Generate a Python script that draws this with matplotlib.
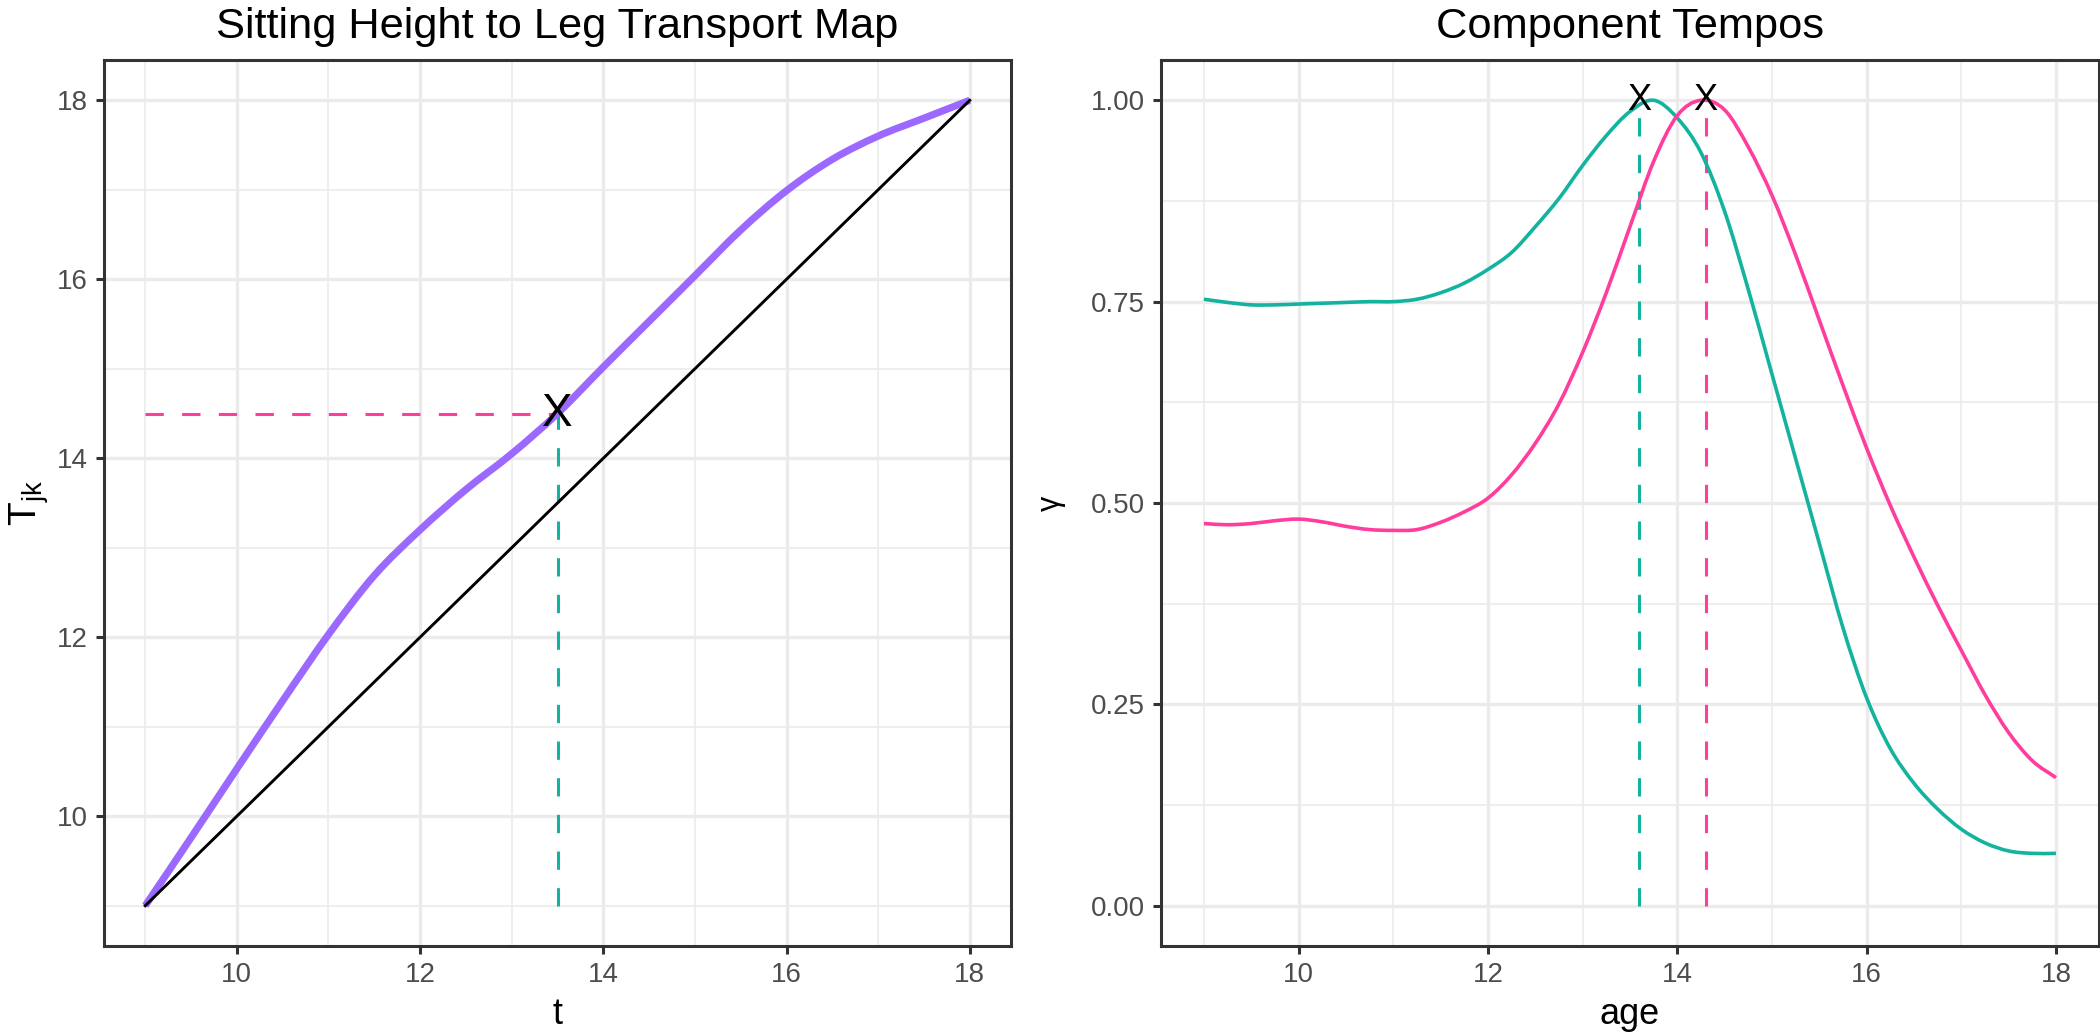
import numpy as np
import matplotlib
matplotlib.use("Agg")
import matplotlib.pyplot as plt
from matplotlib.path import Path
from matplotlib.patches import PathPatch

plt.rcParams['font.family'] = ['Liberation Sans', 'DejaVu Sans']
plt.rcParams['mathtext.fontset'] = 'custom'
plt.rcParams['mathtext.rm'] = 'Liberation Sans'
plt.rcParams['mathtext.it'] = 'Liberation Sans'

# ---- data: left panel (transport map) ----
t_vals = [9.0, 9.5, 10.0, 10.5, 11.0, 11.5, 12.0, 12.5, 13.0, 13.5, 14.0,
          14.5, 15.0, 15.5, 16.0, 16.5, 17.0, 17.5, 18.0]
T_vals = [9.0, 9.76, 10.53, 11.29, 12.03, 12.69, 13.2, 13.65, 14.05, 14.5,
          15.02, 15.53, 16.04, 16.55, 16.99, 17.34, 17.6, 17.8, 18.0]
identity = [9.0, 18.0]
mark_t = 13.5
mark_T = 14.5

# ---- data: right panel (component tempos) ----
age = [9.0, 9.25, 9.5, 9.75, 10.0, 10.25, 10.5, 10.75, 11.0, 11.25, 11.5,
       11.75, 12.0, 12.25, 12.5, 12.75, 13.0, 13.25, 13.5, 13.75, 14.0,
       14.25, 14.5, 14.75, 15.0, 15.25, 15.5, 15.75, 16.0, 16.25, 16.5,
       16.75, 17.0, 17.25, 17.5, 17.75, 18.0]
gamma_teal = [0.753, 0.749, 0.746, 0.746, 0.747, 0.748, 0.749, 0.750, 0.750,
              0.753, 0.761, 0.773, 0.790, 0.811, 0.843, 0.878, 0.919, 0.956,
              0.986, 1.0, 0.978, 0.935, 0.862, 0.765, 0.66, 0.555, 0.45,
              0.345, 0.258, 0.195, 0.152, 0.12, 0.095, 0.078, 0.068, 0.065,
              0.065]
gamma_pink = [0.4745, 0.473, 0.4745, 0.478, 0.480, 0.4766, 0.471, 0.467, 0.466,
              0.467, 0.476, 0.489, 0.506, 0.535, 0.574, 0.623, 0.687, 0.761,
              0.843, 0.924, 0.981, 1.0, 0.988, 0.942, 0.882, 0.808, 0.727,
              0.646, 0.568, 0.497, 0.433, 0.373, 0.317, 0.262, 0.215, 0.18,
              0.159]
peak_teal = 13.6
peak_pink = 14.3

PURPLE = '#9B69FF'
PINK = '#FF3D9D'
TEAL = '#14B39F'
GRID = '#EBEBEB'
BORDER = '#333333'
TICKTXT = '#4D4D4D'

fig = plt.figure(figsize=(10.5, 5.165), dpi=200)
axL = fig.add_axes([104 / 2100, 1 - 946 / 1033, 907 / 2100, 886 / 1033])
axR = fig.add_axes([1161.3 / 2100, 1 - 946 / 1033, 937.3 / 2100, 886 / 1033])


def smooth_path(xs, ys):
    """Cubic Bezier path through the read points (Catmull-Rom tangents)."""
    x = np.asarray(xs, float)
    y = np.asarray(ys, float)
    n = len(x)
    mx = np.empty(n)
    my = np.empty(n)
    mx[1:-1] = (x[2:] - x[:-2]) / 2
    my[1:-1] = (y[2:] - y[:-2]) / 2
    mx[0], my[0] = x[1] - x[0], y[1] - y[0]
    mx[-1], my[-1] = x[-1] - x[-2], y[-1] - y[-2]
    verts = [(x[0], y[0])]
    codes = [Path.MOVETO]
    for i in range(n - 1):
        verts += [(x[i] + mx[i] / 3, y[i] + my[i] / 3),
                  (x[i + 1] - mx[i + 1] / 3, y[i + 1] - my[i + 1] / 3),
                  (x[i + 1], y[i + 1])]
        codes += [Path.CURVE4] * 3
    return Path(verts, codes)


def draw_curve(ax, xs, ys, color, lw, z):
    patch = PathPatch(smooth_path(xs, ys), facecolor='none', edgecolor=color,
                      linewidth=lw, zorder=z, capstyle='butt', joinstyle='round')
    ax.add_patch(patch)


def style(ax, xmaj, xmin, ymaj, ymin):
    ax.set_xticks(xmaj)
    ax.set_xticks(xmin, minor=True)
    ax.set_yticks(ymaj)
    ax.set_yticks(ymin, minor=True)
    ax.grid(which='major', color=GRID, linewidth=1.2, zorder=0)
    ax.grid(which='minor', color=GRID, linewidth=0.6, zorder=0)
    ax.set_axisbelow(True)
    for s in ax.spines.values():
        s.set_color(BORDER)
        s.set_linewidth(1.1)
    ax.tick_params(which='major', length=2.9, width=1.1, color=BORDER,
                   labelsize=10, labelcolor=TICKTXT, pad=3)
    ax.tick_params(which='minor', length=0)


# Left panel
draw_curve(axL, t_vals, T_vals, PURPLE, 2.6, 3)
axL.plot(identity, identity, color='black', linewidth=1.05, zorder=4)
axL.plot([9, mark_t], [mark_T, mark_T], color=PINK, linewidth=1.1,
         dashes=(6, 6), zorder=2)
axL.plot([mark_t, mark_t], [9, mark_T], color=TEAL, linewidth=1.1,
         dashes=(6, 6), zorder=2)
axL.text(mark_t, mark_T, 'X', fontsize=16.5, ha='center', va='center', zorder=5)
axL.set_xlim(8.55, 18.45)
axL.set_ylim(8.55, 18.45)
style(axL, [10, 12, 14, 16, 18], [9, 11, 13, 15, 17],
      [10, 12, 14, 16, 18], [9, 11, 13, 15, 17])
axL.set_xlabel('t', fontsize=13, labelpad=3)
axL.set_ylabel(r'$\mathrm{T}_{\mathrm{jk}}$', fontsize=14, labelpad=2)
axL.set_title('Sitting Height to Leg Transport Map', fontsize=15.6, pad=8)

# Right panel
draw_curve(axR, age, gamma_teal, TEAL, 1.3, 3)
draw_curve(axR, age, gamma_pink, PINK, 1.3, 3)
axR.plot([peak_teal, peak_teal], [0, 1], color=TEAL, linewidth=1.1,
         dashes=(6, 6), zorder=2)
axR.plot([peak_pink, peak_pink], [0, 1], color=PINK, linewidth=1.1,
         dashes=(6, 6), zorder=2)
axR.text(peak_teal, 1.0, 'X', fontsize=13, ha='center', va='center', zorder=5)
axR.text(peak_pink, 1.0, 'X', fontsize=13, ha='center', va='center', zorder=5)
axR.set_xlim(8.55, 18.45)
axR.set_ylim(-0.05, 1.05)
style(axR, [10, 12, 14, 16, 18], [9, 11, 13, 15, 17],
      [0.0, 0.25, 0.5, 0.75, 1.0], [0.125, 0.375, 0.625, 0.875])
axR.set_yticklabels(['0.00', '0.25', '0.50', '0.75', '1.00'])
axR.set_xlabel('age', fontsize=13, labelpad=3)
axR.set_ylabel('γ', fontsize=11, labelpad=9)
axR.set_title('Component Tempos', fontsize=15.6, pad=8)

fig.savefig('out.png', dpi=200, facecolor='white')
